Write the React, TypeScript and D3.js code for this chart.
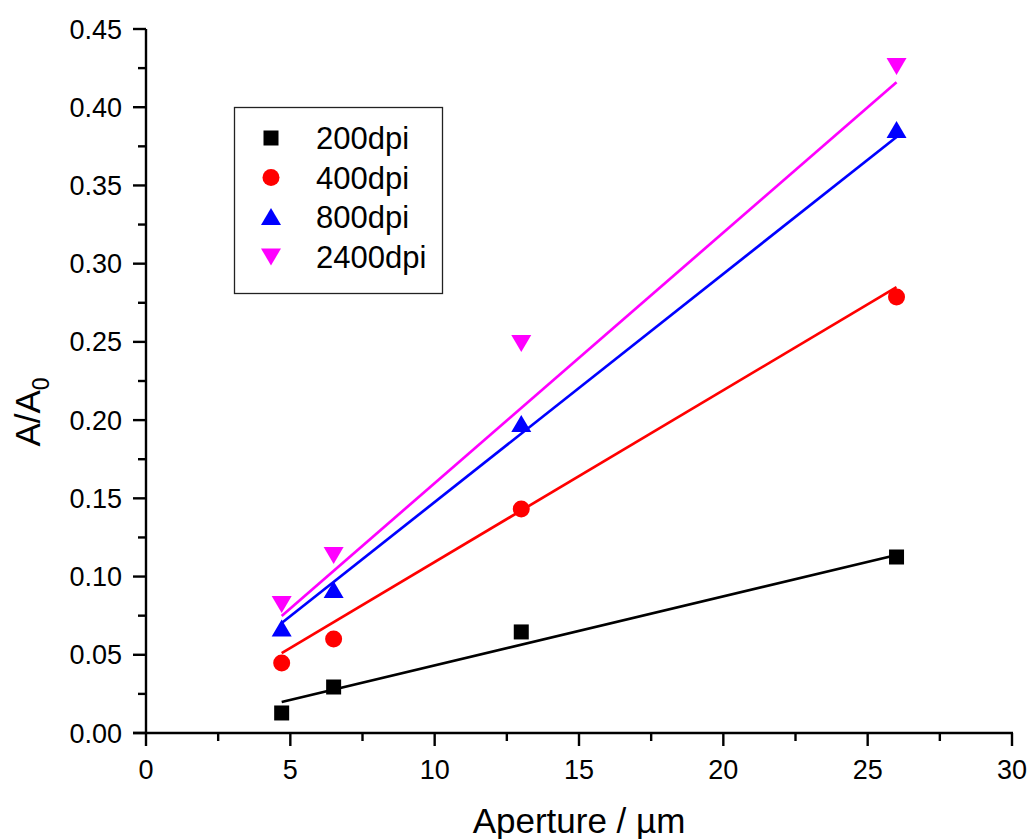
import React from "react";
import * as d3 from "d3";

const apertures = [4.7, 6.5, 13, 26];
const seriesNames = ["200dpi", "400dpi", "800dpi", "2400dpi"];
const seriesColors = ["#000000", "#ff0000", "#0000ff", "#ff00ff"];
const seriesShapes = ["square", "circle", "triangleUp", "triangleDown"];
const values200 = [0.0128, 0.0294, 0.0646, 0.1125];
const values400 = [0.0447, 0.0601, 0.1432, 0.2787];
const values800 = [0.0668, 0.0914, 0.1975, 0.3854];
const values2400 = [0.0825, 0.1138, 0.2493, 0.4264];
// linear fit line end values (at x = 4.7 and x = 26)
const fitX = [4.7, 26];
const fit200 = [0.0198, 0.1138];
const fit400 = [0.0511, 0.285];
const fit800 = [0.0703, 0.381];
const fit2400 = [0.0748, 0.416];
const xTicks = [0, 5, 10, 15, 20, 25, 30];
const yTicks = [0, 0.05, 0.1, 0.15, 0.2, 0.25, 0.3, 0.35, 0.4, 0.45];

const allValues = [values200, values400, values800, values2400];
const allFits = [fit200, fit400, fit800, fit2400];

const W = 1032;
const H = 839;
const x = d3.scaleLinear().domain([0, 30]).range([146, 1012]);
const y = d3.scaleLinear().domain([0, 0.45]).range([733, 29]);
const FONT = "Arimo, 'Liberation Sans', Arial, sans-serif";

function Marker({ shape, cx, cy, color }: { shape: string; cx: number; cy: number; color: string }) {
  if (shape === "square") {
    return <rect x={cx - 7.5} y={cy - 7.5} width={15} height={15} fill={color} />;
  }
  if (shape === "circle") {
    return <circle cx={cx} cy={cy} r={8.5} fill={color} />;
  }
  if (shape === "triangleUp") {
    const p = [[cx, cy - 9], [cx + 10, cy + 8], [cx - 10, cy + 8]];
    return <polygon points={p.map((q) => q.join(",")).join(" ")} fill={color} />;
  }
  const p = [[cx - 10, cy - 8], [cx + 10, cy - 8], [cx, cy + 9]];
  return <polygon points={p.map((q) => q.join(",")).join(" ")} fill={color} />;
}

export default function App() {
  const xMinor = d3.range(2.5, 30, 5);
  const yMinor = d3.range(0.025, 0.45, 0.05);
  const line = d3
    .line<[number, number]>()
    .x((d) => x(d[0]))
    .y((d) => y(d[1]));

  return (
    <svg
      width={W}
      height={H}
      style={{ position: "absolute", left: 0, top: 0, background: "#fff" }}
      fontFamily={FONT}
    >
      <rect x={0} y={0} width={W} height={H} fill="#fff" />
      {/* fit lines */}
      {allFits.map((f, i) => (
        <path
          key={"fit" + i}
          d={line(fitX.map((xv, j) => [xv, f[j]] as [number, number])) || ""}
          fill="none"
          stroke={seriesColors[i]}
          strokeWidth={2.7}
        />
      ))}
      {/* markers */}
      {allValues.map((vals, i) =>
        vals.map((v, j) => (
          <Marker key={i + "-" + j} shape={seriesShapes[i]} cx={x(apertures[j])} cy={y(v)} color={seriesColors[i]} />
        ))
      )}
      {/* axes */}
      <line x1={x(0)} x2={x(0)} y1={y(0.45)} y2={y(0) + 1} stroke="#000" strokeWidth={2.4} />
      <line x1={133} x2={x(30) + 1} y1={y(0)} y2={y(0)} stroke="#000" strokeWidth={2.4} />
      {xTicks.map((t) => (
        <g key={"xt" + t}>
          <line x1={x(t)} x2={x(t)} y1={y(0)} y2={y(0) + 13} stroke="#000" strokeWidth={2.4} />
          <text x={x(t)} y={779} fontSize={27} textAnchor="middle" fill="#000">
            {t}
          </text>
        </g>
      ))}
      {xMinor.map((t) => (
        <line key={"xm" + t} x1={x(t)} x2={x(t)} y1={y(0)} y2={y(0) + 8} stroke="#000" strokeWidth={2.4} />
      ))}
      {yTicks.map((t) => (
        <g key={"yt" + t}>
          <line x1={x(0) - 13} x2={x(0)} y1={y(t)} y2={y(t)} stroke="#000" strokeWidth={2.4} />
          <text x={122} y={y(t) + 9.5} fontSize={27} textAnchor="end" fill="#000">
            {t.toFixed(2)}
          </text>
        </g>
      ))}
      {yMinor.map((t) => (
        <line key={"ym" + t} x1={x(0) - 8} x2={x(0)} y1={y(t)} y2={y(t)} stroke="#000" strokeWidth={2.4} />
      ))}
      {/* axis titles */}
      <text x={579} y={833} fontSize={35} textAnchor="middle" fill="#000">
        Aperture / µm
      </text>
      <text transform="translate(40,412) rotate(-90)" fontSize={35} textAnchor="middle" fill="#000">
        A/A
        <tspan fontSize={23} dy={9}>
          0
        </tspan>
      </text>
      {/* legend */}
      <rect x={234.5} y={107.5} width={208} height={186} fill="#fff" stroke="#222" strokeWidth={1.3} />
      {seriesNames.map((n, i) => {
        const cy = 138 + i * 39.5;
        return (
          <g key={"lg" + n}>
            <Marker shape={seriesShapes[i]} cx={271} cy={cy} color={seriesColors[i]} />
            <text x={316} y={cy + 11} fontSize={31} fill="#000">
              {n}
            </text>
          </g>
        );
      })}
    </svg>
  );
}
